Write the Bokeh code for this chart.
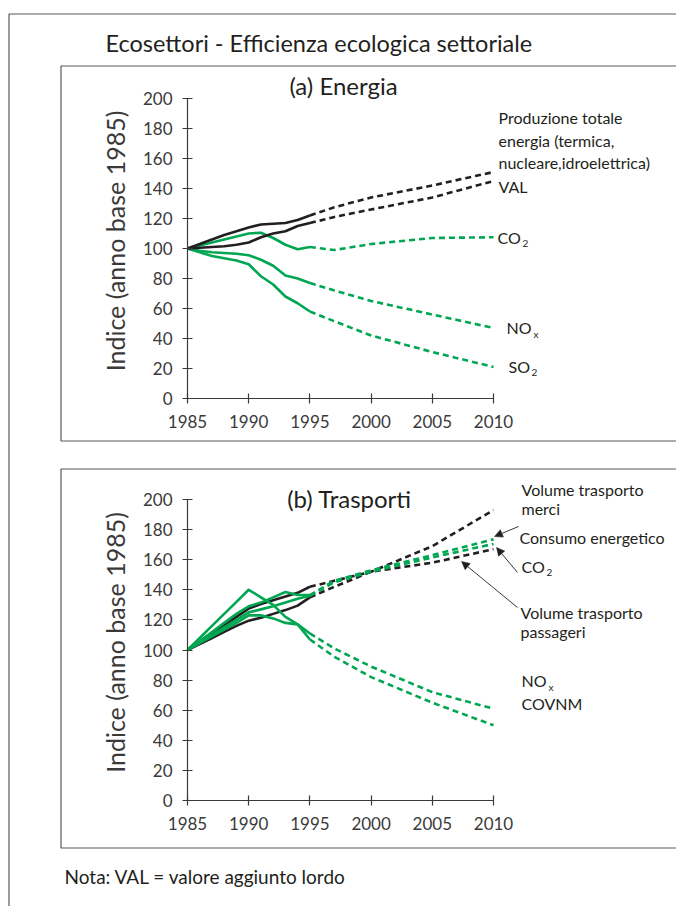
import math
from bokeh.plotting import figure
from bokeh.models import Range1d, LinearAxis, FixedTicker, Arrow, NormalHead
from bokeh.core.properties import value
from bokeh.embed import file_html
from bokeh.resources import INLINE

# ---------------- data ----------------
years_hist = [1985, 1986, 1987, 1988, 1989, 1990, 1991, 1992, 1993, 1994, 1995]
years_proj = [1995, 1997, 2000, 2005, 2010]
x_ticks = [1985, 1990, 1995, 2000, 2005, 2010]
y_ticks = [0, 20, 40, 60, 80, 100, 120, 140, 160, 180, 200]
y_title = "Indice (anno base 1985)"

# (a) Energia
en_prod_hist = [100, 103, 106, 109, 111.5, 114, 116, 116.5, 117, 119, 122]
en_prod_proj = [122, 127.5, 134, 142, 151]
en_val_hist = [100, 100.5, 101, 101.5, 102.5, 104, 107.5, 110, 111.5, 115, 117]
en_val_proj = [117, 121, 126, 134, 145]
en_co2_hist = [100, 102, 104, 106, 108, 110, 110.5, 107, 102.5, 99.5, 101]
en_co2_proj = [101, 99, 103, 107, 107.5]
en_nox_hist = [100, 98.5, 97.5, 97, 96.5, 95.5, 92.5, 88.5, 82, 80, 77]
en_nox_proj = [77, 72, 65, 56, 47]
en_so2_hist = [100, 97.5, 95, 93.5, 92, 89.5, 81.5, 76, 68, 63.5, 58]
en_so2_proj = [58, 51.5, 42, 31, 21]

# (b) Trasporti
tr_merci_hist = [100, 105.5, 111, 116.5, 122, 127.5, 130.5, 133, 135.5, 138, 142]
tr_merci_proj = [142, 146, 152, 169, 193]
tr_pass_hist = [100, 104, 108, 112, 116, 119.5, 121.5, 124, 126.5, 129.5, 135]
tr_pass_proj = [135, 142, 152, 158, 167]
tr_cons_hist = [100, 106, 112, 118, 124, 129, 131.5, 135, 138.5, 136.5, 136.5]
tr_cons_proj = [136.5, 146, 153, 163, 173.5]
tr_co2_hist = [100, 105, 110, 115, 120, 125, 127, 129, 131.5, 134, 136]
tr_co2_proj = [136, 145, 152, 161.5, 170.5]
tr_covnm_hist = [100, 108, 116, 124, 132, 140, 135, 130, 122, 117, 107]
tr_covnm_proj = [107, 95.5, 82, 65, 50]
tr_nox_hist = [100, 104.5, 109, 113.5, 118, 123, 123, 121, 118, 117, 111]
tr_nox_proj = [111, 101, 89, 72, 61]

# ---------------- style / layout ----------------
GREEN = "#00A651"
BLACK = "#231F20"
TXT = "#231F20"
AXC = "#3A3A3A"
FRAME = "#58595B"
FONT = "Lato"
W, H = 676, 906
PX0, PX_YEAR = 187.0, (493.0 - 187.0) / 25.0       # page x of 1985, px per year
A_Y0, A_PU = 398.0, 1.5                             # panel a: page y of 0, px per unit
B_Y0, B_PU = 800.0, 1.505                           # panel b

p = figure(width=W, height=H, output_backend="svg", toolbar_location=None,
           x_range=Range1d(0, W), y_range=Range1d(H, 0),
           x_axis_type=None, y_axis_type=None, min_border=0,
           outline_line_color=None)
p.grid.visible = False

p.extra_x_ranges = {"xt": Range1d(1985 - PX0 / PX_YEAR, 1985 + (W - PX0) / PX_YEAR)}
p.extra_y_ranges = {
    "ya": Range1d(-(H - A_Y0) / A_PU, A_Y0 / A_PU),
    "yb": Range1d(-(H - B_Y0) / B_PU, B_Y0 / B_PU),
}

# frames (decoration, page coordinates)
p.line([W, 8.5, 8.5], [13.5, 13.5, H], line_color=FRAME, line_width=1.2)
p.line([W, 60.5, 60.5, W], [65.5, 65.5, 440.5, 440.5], line_color=FRAME, line_width=1.2)
p.line([W, 60.5, 60.5, W], [468.5, 468.5, 847.5, 847.5], line_color=FRAME, line_width=1.2)


def axes(yname):
    xa = LinearAxis(x_range_name="xt", y_range_name=yname, fixed_location=0,
                    bounds=(1985, 2010), ticker=FixedTicker(ticks=x_ticks, minor_ticks=[]))
    ya = LinearAxis(x_range_name="xt", y_range_name=yname, fixed_location=1985,
                    bounds=(0, 200), ticker=FixedTicker(ticks=y_ticks, minor_ticks=[]))
    for ax in (xa, ya):
        ax.axis_line_color = AXC
        ax.axis_line_width = 1.2
        ax.major_tick_line_color = AXC
        ax.major_tick_line_width = 1.2
        ax.major_tick_in = 5
        ax.major_tick_out = 5
        ax.minor_tick_line_color = None
        ax.major_label_text_font = FONT
        ax.major_label_text_font_size = "17px"
        ax.major_label_text_color = AXC
    xa.major_label_standoff = 11
    ya.major_label_standoff = 10
    p.add_layout(xa, "below")
    p.add_layout(ya, "left")


axes("ya")
axes("yb")

# rotated y-axis titles
for yc in (240.5, 642.0):
    p.text(x=[114], y=[yc], text=[y_title], angle=math.pi / 2,
           text_font=value(FONT), text_font_size=value("25px"), text_color=AXC,
           text_align="center", text_baseline="middle")


def series(yname, hist, proj, color):
    p.line(years_hist, hist, x_range_name="xt", y_range_name=yname,
           line_color=color, line_width=2.6, line_join="round")
    p.line(years_proj, proj, x_range_name="xt", y_range_name=yname,
           line_color=color, line_width=2.6, line_dash="6 4")


series("ya", en_so2_hist, en_so2_proj, GREEN)
series("ya", en_nox_hist, en_nox_proj, GREEN)
series("ya", en_co2_hist, en_co2_proj, GREEN)
series("ya", en_val_hist, en_val_proj, BLACK)
series("ya", en_prod_hist, en_prod_proj, BLACK)

series("yb", tr_pass_hist, tr_pass_proj, BLACK)
series("yb", tr_merci_hist, tr_merci_proj, BLACK)
series("yb", tr_covnm_hist, tr_covnm_proj, GREEN)
series("yb", tr_nox_hist, tr_nox_proj, GREEN)
series("yb", tr_co2_hist, tr_co2_proj, GREEN)
series("yb", tr_cons_hist, tr_cons_proj, GREEN)


def txt(x, y, s, size="16px", align="left"):
    p.text(x=[x], y=[y], text=[s], text_font=value(FONT), text_font_size=value(size),
           text_color=TXT, text_align=align, text_baseline="middle")


def chem(x, y, main, sub, dx, size="16px"):
    txt(x, y, main, size)
    txt(x + dx, y + 6, sub, "10px")


txt(105, 42, "Ecosettori - Efficienza ecologica settoriale", "23.5px")
txt(343, 85, "(a) Energia", "24px", "center")
txt(349, 498, "(b) Trasporti", "24px", "center")

txt(498, 117, "Produzione totale")
txt(498, 140, "energia (termica,")
txt(498, 162, "nucleare,idroelettrica)")
txt(498, 186, "VAL")
chem(497, 237, "CO", "2", 25)
chem(506, 327, "NO", "x", 27)
chem(508, 366, "SO", "2", 23)

txt(521, 489, "Volume trasporto")
txt(521, 508, "merci")
txt(519, 537, "Consumo energetico")
chem(521, 566, "CO", "2", 25)
txt(520, 612, "Volume trasporto")
txt(520, 631, "passageri")
chem(521, 680, "NO", "x", 27)
txt(521, 703, "COVNM")

txt(64, 876, "Nota: VAL = valore aggiunto lordo", "19px")

for (xs, ys, xe, ye) in [(518, 526, 494, 536), (517, 572, 496, 547), (517, 607, 461, 561)]:
    p.add_layout(Arrow(end=NormalHead(size=8, fill_color=BLACK, line_color=BLACK, line_width=0.5),
                       x_start=xs, y_start=ys, x_end=xe, y_end=ye,
                       line_color=BLACK, line_width=0.9))

open("out.html", "w").write(file_html(p, INLINE))
